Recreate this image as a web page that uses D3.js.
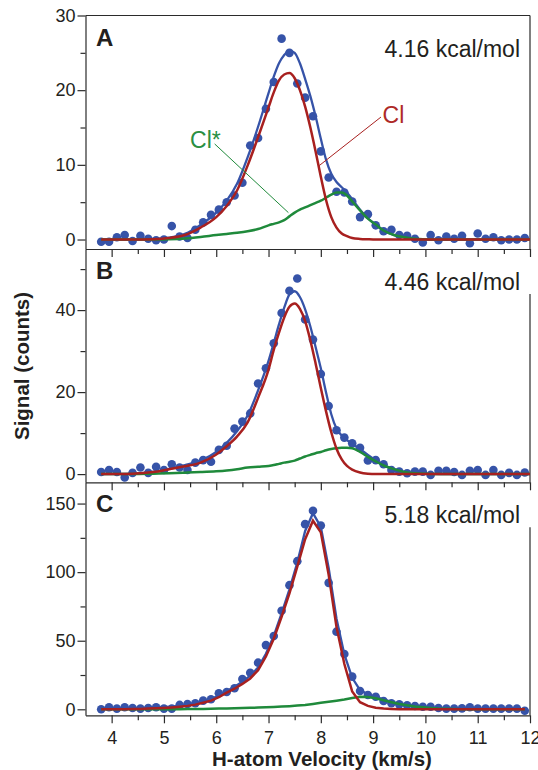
<!DOCTYPE html>
<html>
<head>
<meta charset="utf-8">
<script src="https://cdn.jsdelivr.net/npm/d3@7"></script>
<style>
body { margin: 0; background: #fff; }
svg text { font-family: "Liberation Sans", Arial, Helvetica, sans-serif; fill: #231f20; }
.axis path, .axis line { stroke: #2b2b2b; stroke-width: 1.2; }
</style>
</head>
<body>
<svg id="chart" width="538" height="770"></svg>
<script>
// measured H-atom velocities (km/s), shared by all three panels
const velocity = [3.8, 3.95, 4.1, 4.25, 4.4, 4.55, 4.7, 4.85, 5.0, 5.15,
  5.3, 5.45, 5.6, 5.75, 5.9, 6.05, 6.2, 6.35, 6.5, 6.65,
  6.8, 6.95, 7.1, 7.25, 7.4, 7.55, 7.7, 7.85, 8.0, 8.15,
  8.3, 8.45, 8.6, 8.75, 8.9, 9.05, 9.2, 9.35, 9.5, 9.65,
  9.8, 9.95, 10.1, 10.25, 10.4, 10.55, 10.7, 10.85, 11.0, 11.15,
  11.3, 11.45, 11.6, 11.75, 11.9];

// measured signal (counts)
const signalA = [-0.3, -0.3, 0.3, 0.6, -0.2, 0.5, 0.1, -0.1, 0.0, 1.8,
  0.4, 0.2, 1.3, 2.3, 3.3, 4.0, 5.0, 5.9, 7.6, 12.6,
  13.6, 17.5, 21.1, 26.9, 25.0, 20.9, 19.0, 16.5, 11.8, 8.3,
  6.4, 6.3, 5.1, 3.0, 3.4, 1.9, 1.1, 1.3, 0.6, 0.5,
  0.1, -0.4, 0.6, -0.1, 0.4, 0.1, 0.5, -0.5, 0.8, 0.1,
  0.3, -0.1, 0.0, 0.0, 0.2];
const signalB = [0.5, 1.0, 0.5, -0.8, 0.3, 1.6, 0.3, 1.8, 1.0, 2.4,
  1.6, 1.0, 2.8, 3.4, 3.0, 5.9, 6.9, 11.1, 12.8, 14.8,
  22.1, 25.8, 31.9, 39.3, 44.7, 47.7, 37.7, 32.8, 24.4, 16.6,
  10.7, 8.9, 7.5, 6.4, 3.3, 3.4, 2.4, 1.0, 0.6, 0.2,
  0.6, 0.6, -0.2, 0.8, 0.8, 0.5, -0.2, 0.8, 1.0, -0.2,
  1.0, -0.2, 0.3, -0.2, 0.4];
const signalC = [0, 1.5, 0.5, 1.5, 1.0, 0.5, 1.0, 1.5, 0.5, 0.5,
  3.2, 3.9, 4.4, 6.3, 7.3, 11.7, 12.6, 15.3, 22.1, 26.7,
  34.0, 46.8, 53.4, 71.8, 90.5, 108, 135, 144.7, 134, 92.2,
  56.6, 40.3, 23.8, 13.3, 10.4, 9.2, 6.1, 4.4, 3.6, 2.9,
  2.4, 1.9, 1.9, 1.0, 0.5, 0.5, 0.7, 1.5, 0.5, 0.5,
  0.5, 0.5, 0.5, 0.5, -1.0];

// fitted curves for panels A and B, read on this velocity grid
const fitVelocity = [3.8, 4.4, 4.8, 5.1, 5.4, 5.7, 6.0, 6.2, 6.4, 6.6,
  6.8, 7.0, 7.1, 7.2, 7.3, 7.4, 7.5, 7.6, 7.7, 7.8,
  7.9, 8.0, 8.1, 8.2, 8.3, 8.4, 8.5, 8.6, 8.75, 8.9,
  9.05, 9.2, 9.4, 9.6, 9.8, 10.1, 10.5, 11, 12];
const totalA = [0, 0, 0.05, 0.25, 0.75, 1.95, 3.6, 5.2, 7.5, 11.0,
  15.1, 19.6, 21.8, 23.6, 24.7, 25.3, 25.0, 23.6, 21.5, 19.2,
  16.5, 13.5, 10.7, 8.8, 7.7, 7.0, 6.3, 5.4, 4.0, 2.85,
  2.0, 1.2, 0.6, 0.3, 0.1, 0, 0, 0, 0];
const clA = [0, 0, 0.05, 0.2, 0.6, 1.6, 3.0, 4.5, 6.6, 9.9,
  13.7, 17.7, 19.7, 21.3, 22.1, 22.3, 21.6, 20.0, 17.8, 15.0,
  11.8, 8.4, 5.3, 3.0, 1.6, 0.8, 0.45, 0.2, 0.08, 0.03,
  0, 0, 0, 0, 0, 0, 0, 0, 0];
const clStarA = [0, 0, 0, 0.05, 0.15, 0.35, 0.6, 0.75, 0.9, 1.1,
  1.4, 1.9, 2.1, 2.3, 2.6, 3.1, 3.6, 4.0, 4.3, 4.6,
  4.9, 5.2, 5.6, 6.0, 6.3, 6.3, 5.9, 5.1, 3.9, 2.8,
  2.0, 1.2, 0.6, 0.3, 0.1, 0, 0, 0, 0];
const totalB = [0, 0.1, 0.6, 1.3, 2.2, 3.3, 5.4, 7.6, 10.5, 14.3,
  20.4, 27.6, 32.0, 36.5, 40.6, 43.8, 44.6, 43.2, 40.2, 36.0,
  31.0, 25.8, 19.9, 14.6, 11.1, 9.4, 8.3, 7.4, 6.1, 4.7,
  3.4, 2.2, 1.2, 0.5, 0.2, 0.05, 0, 0, 0];
const clB = [0, 0.1, 0.5, 1.2, 1.9, 2.8, 4.8, 6.8, 9.2, 12.6,
  18.6, 25.5, 30.3, 34.5, 38.2, 40.8, 41.6, 40.3, 37.3, 32.6,
  27.0, 21.0, 15.3, 10.2, 6.2, 3.6, 2.0, 1.1, 0.4, 0.1,
  0, 0, 0, 0, 0, 0, 0, 0, 0];
const clStarB = [0, 0, 0.1, 0.2, 0.35, 0.5, 0.7, 0.9, 1.2, 1.6,
  1.8, 2.0, 2.2, 2.5, 2.8, 3.0, 3.3, 3.8, 4.3, 4.7,
  5.1, 5.4, 5.8, 6.1, 6.3, 6.4, 6.4, 6.3, 5.4, 4.2,
  3.1, 2.1, 1.2, 0.5, 0.2, 0.05, 0, 0, 0];

// panel C curves are drawn point to point on the measured velocities
const totalC = [0.5, 0.6, 0.7, 0.8, 0.9, 1.0, 1.1, 1.3, 1.6, 2.0,
  2.6, 3.3, 4.3, 5.8, 7.4, 10.0, 13.4, 16.5, 20.2, 24.5,
  30.5, 40.5, 53.5, 70, 87.5, 107, 130, 143, 133, 103,
  66, 40, 23, 14, 11, 9.1, 7.2, 5.5, 4.0, 2.9,
  2.1, 1.5, 1.0, 0.7, 0.45, 0.3, 0.2, 0.1, 0.1, 0.1,
  0.1, 0.1, 0.1, 0.1, 0.1];
const clC = [0, 0, 0, 0.1, 0.2, 0.3, 0.5, 0.7, 1.0, 1.4,
  1.9, 2.5, 3.4, 4.8, 6.3, 8.8, 12.1, 15.0, 18.5, 22.5,
  28.5, 38.5, 51.5, 67.5, 84.5, 104, 124, 137.5, 129, 98,
  60, 33, 13, 5.2, 2.5, 1.2, 0.6, 0.3, 0.1, 0,
  0, 0, 0, 0, 0, 0, 0, 0, 0, 0,
  0, 0, 0, 0, 0];
const clStarC = [0, 0, 0, 0, 0, 0, 0, 0, 0, 0.05,
  0.1, 0.2, 0.25, 0.3, 0.4, 0.5, 0.6, 0.75, 0.9, 1.05,
  1.25, 1.45, 1.7, 2.0, 2.3, 2.7, 3.2, 3.9, 4.7, 5.5,
  6.3, 7.2, 8.3, 9.1, 9.0, 8.0, 6.6, 5.2, 3.9, 2.9,
  2.1, 1.5, 1.0, 0.6, 0.35, 0.2, 0.1, 0, 0, 0,
  0, 0, 0, 0, 0];

const panelLetters = ["A", "B", "C"];
const energies = ["4.16 kcal/mol", "4.46 kcal/mol", "5.18 kcal/mol"];
const xMajorTicks = [4, 5, 6, 7, 8, 9, 10, 11, 12];
const xMinorTicks = [4.5, 5.5, 6.5, 7.5, 8.5, 9.5, 10.5, 11.5];

const blue = "#3653a8", red = "#a8201f", green = "#1f8a3b";

const svg = d3.select("#chart");
const x = d3.scaleLinear().domain([3.5, 12]).range([85.5, 530]);

const panels = [
  { letter: panelLetters[0], energy: energies[0], domain: [-1.27, 30], range: [249, 15.5],
    major: [0, 10, 20, 30], minor: [5, 15, 25], sig: signalA,
    fx: fitVelocity, total: totalA, cl: clA, clStar: clStarA, curve: d3.curveMonotoneX },
  { letter: panelLetters[1], energy: energies[1], domain: [-2.0, 54.9], range: [482.3, 249],
    major: [0, 20, 40], minor: [10, 30, 50], sig: signalB,
    fx: fitVelocity, total: totalB, cl: clB, clStar: clStarB, curve: d3.curveMonotoneX },
  { letter: panelLetters[2], energy: energies[2], domain: [-4.37, 165.5], range: [715.3, 482.3],
    major: [0, 50, 100, 150], minor: [25, 75, 125], sig: signalC,
    fx: velocity, total: totalC, cl: clC, clStar: clStarC, curve: d3.curveLinear }
];

panels.forEach((p, idx) => {
  const y = d3.scaleLinear().domain(p.domain).range(p.range);
  const g = svg.append("g");
  const bottom = p.range[0], top = p.range[1];

  // y axis: major + minor ticks
  g.append("g").attr("class", "axis")
    .attr("transform", `translate(${x.range()[0]},0)`)
    .call(d3.axisLeft(y).tickValues(p.major).tickSize(8).tickSizeOuter(0).tickPadding(2))
    .call(a => a.selectAll("text").style("font-size", "18px"));
  g.append("g").attr("class", "axis")
    .attr("transform", `translate(${x.range()[0]},0)`)
    .call(d3.axisLeft(y).tickValues(p.minor).tickSize(5).tickSizeOuter(0).tickFormat(""))
    .call(a => a.select(".domain").remove());

  // x axis: labels only on the last panel
  const xa = d3.axisBottom(x).tickValues(xMajorTicks).tickSize(8).tickSizeOuter(0).tickPadding(8);
  if (idx < 2) xa.tickFormat("");
  g.append("g").attr("class", "axis")
    .attr("transform", `translate(0,${bottom})`)
    .call(xa)
    .call(a => a.selectAll("text").style("font-size", "18px"));
  g.append("g").attr("class", "axis")
    .attr("transform", `translate(0,${bottom})`)
    .call(d3.axisBottom(x).tickValues(xMinorTicks).tickSize(5).tickSizeOuter(0).tickFormat(""))
    .call(a => a.select(".domain").remove());

  // frame on the right (and top of first panel)
  g.append("line").attr("x1", x(12)).attr("x2", x(12))
    .attr("y1", idx === 0 ? top : top + 45).attr("y2", bottom)
    .attr("stroke", "#2b2b2b").attr("stroke-width", 1.2);
  if (idx === 0) {
    g.append("line").attr("x1", x(3.5)).attr("x2", x(12))
      .attr("y1", top).attr("y2", top)
      .attr("stroke", "#2b2b2b").attr("stroke-width", 1.2);
  }

  // data points
  g.selectAll("circle").data(velocity).enter().append("circle")
    .attr("cx", d => x(d))
    .attr("cy", (d, i) => y(p.sig[i]))
    .attr("r", 4.3)
    .attr("fill", blue);

  const line = arr => d3.line()
    .x((d, i) => x(p.fx[i]))
    .y(d => y(d))
    .curve(p.curve)(arr);

  g.append("path").attr("d", line(p.total)).attr("fill", "none")
    .attr("stroke", blue).attr("stroke-width", 2.3);
  g.append("path").attr("d", line(p.clStar)).attr("fill", "none")
    .attr("stroke", green).attr("stroke-width", 2.5);
  g.append("path").attr("d", line(p.cl)).attr("fill", "none")
    .attr("stroke", red).attr("stroke-width", 2.5);

  g.append("text").attr("x", 96).attr("y", y(p.domain[1]) + 30)
    .style("font-size", "24px").style("font-weight", "bold")
    .text(p.letter);
  g.append("text").attr("x", 520).attr("y", y(p.domain[1]) + 41)
    .attr("text-anchor", "end").style("font-size", "23px")
    .text(p.energy);

  if (idx === 0) {
    // leader lines for the two components (data coordinates)
    g.append("line").attr("x1", x(5.97)).attr("y1", y(12.8))
      .attr("x2", x(7.38)).attr("y2", y(3.6))
      .attr("stroke", green).attr("stroke-width", 1);
    g.append("line").attr("x1", x(9.15)).attr("y1", y(16.4))
      .attr("x2", x(7.97)).attr("y2", y(9.9))
      .attr("stroke", red).attr("stroke-width", 1);
    g.append("text").attr("x", x(5.5)).attr("y", y(12.3))
      .style("font-size", "23px").style("fill", "#2a8f42").text("Cl*");
    g.append("text").attr("x", x(9.18)).attr("y", y(15.6))
      .style("font-size", "23px").style("fill", "#ae2a27").text("Cl");
  }
});

svg.append("text")
  .attr("x", 322).attr("y", 766)
  .attr("text-anchor", "middle")
  .style("font-size", "20.5px").style("font-weight", "bold")
  .text("H-atom Velocity (km/s)");

svg.append("text")
  .attr("transform", "translate(29,366) rotate(-90)")
  .attr("text-anchor", "middle")
  .style("font-size", "20.5px").style("font-weight", "bold")
  .text("Signal (counts)");
</script>
</body>
</html>
